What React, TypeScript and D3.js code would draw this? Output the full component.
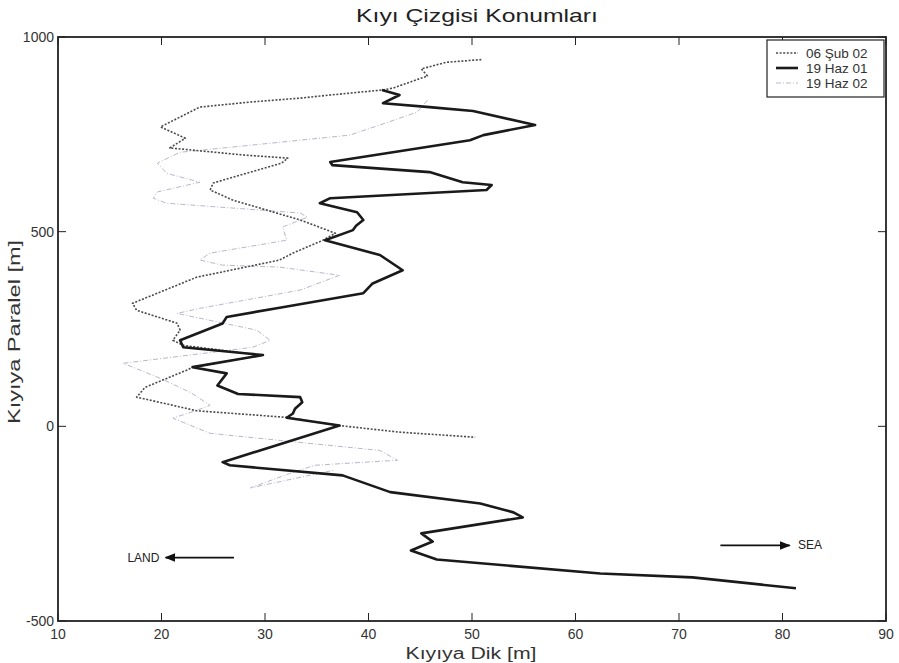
import React from "react";
import * as d3 from "d3";

// 06 Şub 02 (dotted)  [kıyıya dik, kıyıya paralel]
const sub02: [number, number][] = [
  [50.9, 942], [47.5, 935], [45.1, 918], [45.7, 900], [42.4, 869], [41.4, 864],
  [36.3, 851], [33.4, 843], [28.6, 833], [23.7, 820], [19.9, 769], [22.3, 740],
  [20.8, 715], [27.9, 697], [32.2, 689], [31.6, 676], [25.0, 625], [24.7, 607],
  [26.9, 581], [33.4, 530], [36.8, 496], [35.6, 478], [32.7, 445], [31.4, 427],
  [23.4, 383], [17.2, 316], [17.6, 298], [21.5, 265], [21.8, 247], [21.1, 221],
  [22.1, 208], [28.3, 187], [29.8, 183], [23.0, 152], [22.5, 145], [19.6, 113],
  [18.4, 100], [17.6, 75], [23.4, 40], [32.1, 23], [37.2, 2], [43.0, -15],
  [50.3, -28],
];

// 19 Haz 01 (thick)
const haz01: [number, number][] = [
  [41.3, 864], [43.0, 851], [41.4, 830], [45.9, 820], [50.1, 810], [56.1, 774],
  [51.1, 748], [49.8, 735], [36.3, 679], [36.5, 671], [45.9, 653], [49.1, 627],
  [51.9, 620], [51.4, 607], [36.3, 586], [35.3, 573], [38.9, 550], [39.5, 530],
  [38.8, 515], [38.5, 504], [35.8, 478], [41.1, 440], [43.3, 401], [40.4, 367],
  [39.5, 342], [31.7, 306], [26.3, 281], [25.9, 264], [21.8, 221], [22.1, 203],
  [28.3, 187], [29.8, 183], [23.0, 152], [26.3, 136], [25.4, 105], [27.4, 83],
  [33.4, 75], [33.6, 62], [32.9, 45], [32.7, 33], [32.1, 22], [37.2, 2],
  [25.9, -92], [26.6, -100], [37.5, -126], [42.1, -169], [50.8, -198], [54.0, -221],
  [54.9, -234], [45.1, -275], [46.2, -296], [44.1, -319], [46.6, -342], [62.4, -378],
  [71.3, -388], [81.3, -416],
];

// 19 Haz 02 (light dash-dot)
const haz02: [number, number][] = [
  [45.7, 838], [44.7, 807], [41.1, 774], [38.2, 748], [33.4, 735], [28.6, 722],
  [21.8, 704], [19.6, 676], [20.5, 650], [23.7, 627], [19.6, 602], [19.2, 586],
  [20.5, 573], [33.4, 548], [34.1, 537], [31.7, 512], [32.1, 478], [24.7, 445],
  [23.7, 427], [25.9, 414], [31.4, 409], [37.2, 388], [33.4, 350], [23.7, 303],
  [21.5, 290], [29.2, 247], [30.5, 221], [28.8, 203], [16.3, 162], [19.9, 123],
  [22.8, 87], [24.7, 54], [23.4, 41], [21.1, 21], [24.7, -18], [41.1, -62],
  [42.8, -87], [34.8, -100], [32.4, -121], [28.6, -158], [36.6, -113],
];

const xTicks = [10, 20, 30, 40, 50, 60, 70, 80, 90];
const yTicks = [-500, 0, 500, 1000];
const legendNames = ["06 Şub 02", "19 Haz 01", "19 Haz 02"];

const W = 899;
const H = 663;
const font = "'Liberation Sans', Arial, sans-serif";

const styles = [
  { stroke: "#4a4a4a", width: 1.6, dash: "2,1.6" },
  { stroke: "#1a1a1a", width: 2.6, dash: null },
  { stroke: "#bab6cc", width: 1, dash: "5,2,1,2" },
];

export default function App() {
  const x = d3.scaleLinear().domain([10, 90]).range([58, 886]);
  const y = d3.scaleLinear().domain([-500, 1000]).range([621, 37]);
  const line = d3
    .line<[number, number]>()
    .x((d) => x(d[0]))
    .y((d) => y(d[1]));
  const series = [sub02, haz01, haz02];
  const [x0, x1] = x.range();
  const [y0, y1] = y.range();

  return (
    <svg
      width={W}
      height={H}
      style={{ position: "absolute", left: 0, top: 0, background: "#fff" }}
      fontFamily={font}
    >
      <defs>
        <marker id="ah" viewBox="0 0 10 10" refX="9" refY="5" markerWidth="6" markerHeight="6" orient="auto">
          <path d="M0,1 L10,5 L0,9 z" fill="#111" />
        </marker>
      </defs>
      <text x={477} y={22} textAnchor="middle" fontSize={19} fill="#222" textLength={242} lengthAdjust="spacingAndGlyphs">
        Kıyı Çizgisi Konumları
      </text>

      {/* lines, drawn light first */}
      {[2, 0, 1].map((i) => (
        <path
          key={i}
          d={line(series[i]) ?? ""}
          fill="none"
          stroke={styles[i].stroke}
          strokeWidth={styles[i].width}
          strokeDasharray={styles[i].dash ?? undefined}
          strokeLinejoin="round"
        />
      ))}

      {/* axes box */}
      <rect x={x0} y={y1} width={x1 - x0} height={y0 - y1} fill="none" stroke="#222" strokeWidth={1.8} />
      {xTicks.map((t) => (
        <g key={t}>
          <line x1={x(t)} x2={x(t)} y1={y0} y2={y0 - 8} stroke="#222" />
          <line x1={x(t)} x2={x(t)} y1={y1} y2={y1 + 8} stroke="#222" />
          <text x={x(t)} y={y0 + 18} textAnchor="middle" fontSize={14} fill="#333">
            {t}
          </text>
        </g>
      ))}
      {yTicks.map((t) => (
        <g key={t}>
          <line x1={x0} x2={x0 + 8} y1={y(t)} y2={y(t)} stroke="#222" />
          <line x1={x1} x2={x1 - 8} y1={y(t)} y2={y(t)} stroke="#222" />
          <text x={x0 - 4} y={y(t) + 5} textAnchor="end" fontSize={14} fill="#333">
            {t}
          </text>
        </g>
      ))}
      <text x={471} y={659} textAnchor="middle" fontSize={16} fill="#333" textLength={131} lengthAdjust="spacingAndGlyphs">
        Kıyıya Dik [m]
      </text>
      <text
        transform={`translate(20,332) rotate(-90)`}
        textAnchor="middle"
        fontSize={16}
        fill="#333"
        textLength={184}
        lengthAdjust="spacingAndGlyphs"
      >
        Kıyıya Paralel [m]
      </text>

      {/* land / sea arrows */}
      <line x1={x(27)} x2={x(20.4)} y1={y(-337)} y2={y(-337)} stroke="#111" strokeWidth={1.8} markerEnd="url(#ah)" />
      <text x={x(19.8)} y={y(-337) + 4} textAnchor="end" fontSize={12} fill="#222">
        LAND
      </text>
      <line x1={x(74)} x2={x(80.7)} y1={y(-306)} y2={y(-306)} stroke="#111" strokeWidth={1.8} markerEnd="url(#ah)" />
      <text x={x(81.5)} y={y(-306) + 4} fontSize={12} fill="#222">
        SEA
      </text>

      {/* legend */}
      <rect x={767} y={40} width={117} height={57} fill="#fff" stroke="#222" strokeWidth={1.2} />
      {legendNames.map((n, i) => (
        <g key={n}>
          <line
            x1={776}
            x2={798}
            y1={53 + i * 15}
            y2={53 + i * 15}
            stroke={styles[i].stroke}
            strokeWidth={styles[i].width}
            strokeDasharray={styles[i].dash ?? undefined}
          />
          <text x={806} y={57.5 + i * 15} fontSize={13.5} fill="#333">
            {n}
          </text>
        </g>
      ))}
    </svg>
  );
}
